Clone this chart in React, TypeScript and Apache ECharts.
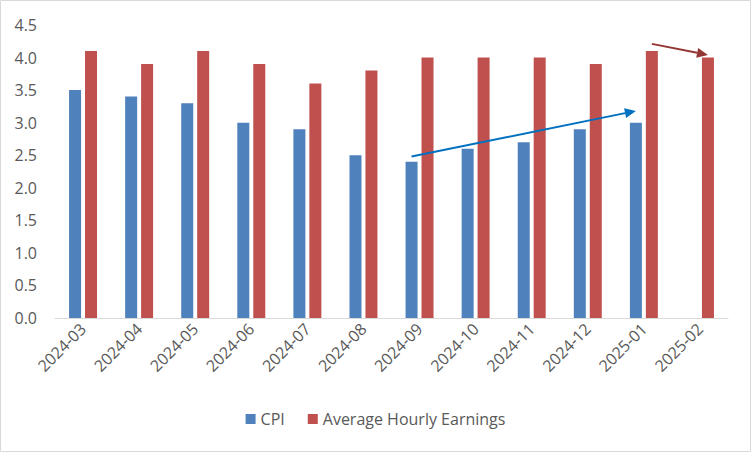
import React, { useEffect, useRef } from "react";
import * as echarts from "echarts";

const categories = [
  "2024-03", "2024-04", "2024-05", "2024-06", "2024-07", "2024-08",
  "2024-09", "2024-10", "2024-11", "2024-12", "2025-01", "2025-02",
];
const cpi: (number | null)[] = [3.5, 3.4, 3.3, 3.0, 2.9, 2.5, 2.4, 2.6, 2.7, 2.9, 3.0, null];
const earnings = [4.1, 3.9, 4.1, 3.9, 3.6, 3.8, 4.0, 4.0, 4.0, 3.9, 4.1, 4.0];
const yTicks = { min: 0, max: 4.5, interval: 0.5 };

// annotation arrows: [categoryIndex, value] endpoints, series offset (-1 CPI, +1 earnings)
const blueArrow = { from: [6, 2.48], to: [10, 3.18], side: -1, color: "#0070C0" };
const redArrow = { from: [10, 4.21], to: [11, 4.04], side: 1, color: "#943634" };

const FONT = "Open Sans";
const TEXT = "#595959";
const FS = 16;

export default function App() {
  const ref = useRef<HTMLDivElement>(null);
  useEffect(() => {
    document.body.style.margin = "0";
    const chart = echarts.init(ref.current!, null, { renderer: "svg" });
    const option: any = {
      animation: false,
      textStyle: { fontFamily: FONT },
      grid: { left: 55, right: 23, top: 25, bottom: 134 },
      legend: {
        bottom: 20,
        left: "center",
        itemWidth: 10,
        itemHeight: 10,
        itemGap: 23,
        icon: "rect",
        textStyle: { color: TEXT, fontSize: FS, fontFamily: FONT },
        data: ["CPI", "Average Hourly Earnings"],
      },
      xAxis: {
        type: "category",
        data: categories,
        axisLine: { lineStyle: { color: "#D9D9D9", width: 1 } },
        axisTick: { lineStyle: { color: "#D9D9D9" }, length: 5 },
        axisLabel: { rotate: 45, color: TEXT, fontSize: FS, fontFamily: FONT, margin: 8 },
      },
      yAxis: {
        type: "value",
        min: yTicks.min,
        max: yTicks.max,
        interval: yTicks.interval,
        splitLine: { show: false },
        axisLine: { show: false },
        axisTick: { show: false },
        axisLabel: {
          color: TEXT, fontSize: FS, fontFamily: FONT, margin: 18,
          formatter: (v: number) => v.toFixed(1),
        },
      },
      series: [
        {
          name: "CPI",
          type: "bar",
          data: cpi.map((v) => (v === null ? "-" : v)),
          barWidth: 12,
          barGap: "33%",
          itemStyle: { color: "#4F81BD" },
        },
        {
          name: "Average Hourly Earnings",
          type: "bar",
          data: earnings,
          barWidth: 12,
          barGap: "33%",
          itemStyle: { color: "#C0504D" },
        },
      ],
    };
    chart.setOption(option);

    const half = 8;
    const arrowGraphic = (a: any) => {
      const p1 = chart.convertToPixel({ gridIndex: 0 }, a.from) as number[];
      const p2 = chart.convertToPixel({ gridIndex: 0 }, a.to) as number[];
      const x1 = p1[0] + a.side * half, y1 = p1[1];
      const x2 = p2[0] + a.side * half, y2 = p2[1];
      const dx = x2 - x1, dy = y2 - y1;
      const len = Math.sqrt(dx * dx + dy * dy);
      const ux = dx / len, uy = dy / len;
      const hl = 11, hw = 5;
      const bx = x2 - ux * hl, by = y2 - uy * hl;
      return [
        {
          type: "line",
          shape: { x1, y1, x2: bx, y2: by },
          style: { stroke: a.color, lineWidth: 2 },
          z: 100,
        },
        {
          type: "polygon",
          shape: {
            points: [
              [x2, y2],
              [bx - uy * hw, by + ux * hw],
              [bx + uy * hw, by - ux * hw],
            ],
          },
          style: { fill: a.color },
          z: 100,
        },
      ];
    };
    chart.setOption({
      graphic: [
        {
          type: "rect",
          shape: { x: 0.5, y: 0.5, width: 750, height: 451 },
          style: { fill: "none", stroke: "#D9D9D9", lineWidth: 1 },
          silent: true,
        },
        ...arrowGraphic(blueArrow),
        ...arrowGraphic(redArrow),
      ],
    });
    return () => chart.dispose();
  }, []);
  return <div ref={ref} style={{ width: 751, height: 452 }} />;
}
